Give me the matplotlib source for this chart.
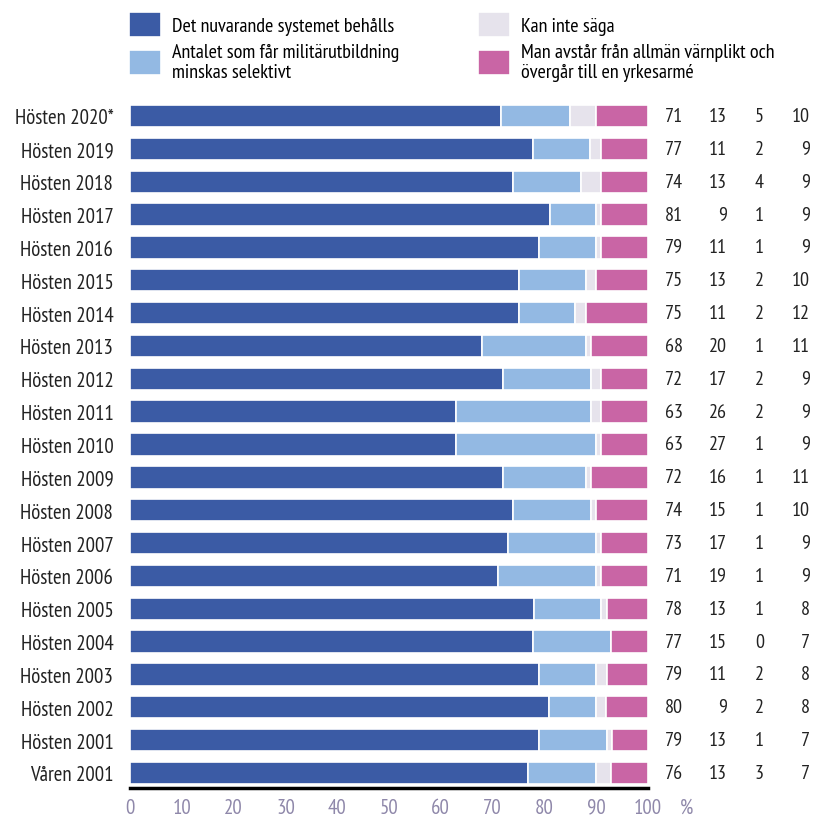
import matplotlib
matplotlib.use("Agg")
import matplotlib.pyplot as plt
import numpy as np

plt.rcParams['font.family'] = ['PT Sans Narrow', 'DejaVu Sans']

perioder = ['Hösten 2020*', 'Hösten 2019', 'Hösten 2018', 'Hösten 2017', 'Hösten 2016',
            'Hösten 2015', 'Hösten 2014', 'Hösten 2013', 'Hösten 2012', 'Hösten 2011',
            'Hösten 2010', 'Hösten 2009', 'Hösten 2008', 'Hösten 2007', 'Hösten 2006',
            'Hösten 2005', 'Hösten 2004', 'Hösten 2003', 'Hösten 2002', 'Hösten 2001',
            'Våren 2001']
behalls = [71, 77, 74, 81, 79, 75, 75, 68, 72, 63, 63, 72, 74, 73, 71, 78, 77, 79, 80, 79, 76]
selektivt = [13, 11, 13, 9, 11, 13, 11, 20, 17, 26, 27, 16, 15, 17, 19, 13, 15, 11, 9, 13, 13]
kan_inte = [5, 2, 4, 1, 1, 2, 2, 1, 2, 2, 1, 1, 1, 1, 1, 1, 0, 2, 2, 1, 3]
yrkesarme = [10, 9, 9, 9, 9, 10, 12, 11, 9, 9, 9, 11, 10, 9, 9, 8, 7, 8, 8, 7, 7]

etiketter = ['Det nuvarande systemet behålls',
             'Antalet som får militärutbildning\nminskas selektivt',
             'Kan inte säga',
             'Man avstår från allmän värnplikt och\növergår till en yrkesarmé']
farger = ['#3b5ba5', '#93b9e3', '#e6e3ec', '#c965a5']

serier = np.array([behalls, selektivt, kan_inte, yrkesarme], dtype=float)
andel = serier / serier.sum(axis=0) * 100

fig = plt.figure(figsize=(8.13, 8.20), dpi=100)
ax = fig.add_axes([130 / 813, 1 - 789 / 820, 518 / 813, 689 / 820])

y = np.arange(len(perioder))
vanster = np.zeros(len(perioder))
for i in range(4):
    ax.barh(y, andel[i], left=vanster, height=0.68, color=farger[i],
            edgecolor='white', linewidth=1.2, label=etiketter[i])
    vanster += andel[i]

ax.set_xlim(0, 100)
ax.set_ylim(20.457, -0.517)
ax.set_yticks(y)
ax.set_yticklabels(perioder, fontsize=15, color='#222222')
ax.set_xticks(range(0, 101, 10))
ax.tick_params(axis='x', length=0, labelsize=15, labelcolor='#8f88aa', pad=7)
ax.tick_params(axis='y', length=0, pad=12)
for s in ['top', 'right', 'left']:
    ax.spines[s].set_visible(False)
ax.spines['bottom'].set_linewidth(2.5)
ax.spines['bottom'].set_color('black')

ax.annotate('%', xy=(108.8, 0), xycoords=('data', 'axes fraction'),
            xytext=(0, -7), textcoords='offset points', ha='right', va='top',
            fontsize=15, color='#8f88aa', annotation_clip=False)

kolumner = [106.8, 115.3, 122.4, 131.3]
for j, rad in enumerate(zip(behalls, selektivt, kan_inte, yrkesarme)):
    for k, v in enumerate(rad):
        ax.text(kolumner[k], j, str(v), ha='right', va='center', fontsize=14.5,
                color='#222222', clip_on=False)

fig.legend(loc='upper left', bbox_to_anchor=(121 / 813, 1 - 5 / 820), ncol=2,
           frameon=False, fontsize=14.5, handlelength=1.6, handleheight=1.5,
           handletextpad=0.55, columnspacing=3.9, labelspacing=0.3,
           borderaxespad=0)

fig.savefig('out.png', dpi=100)
